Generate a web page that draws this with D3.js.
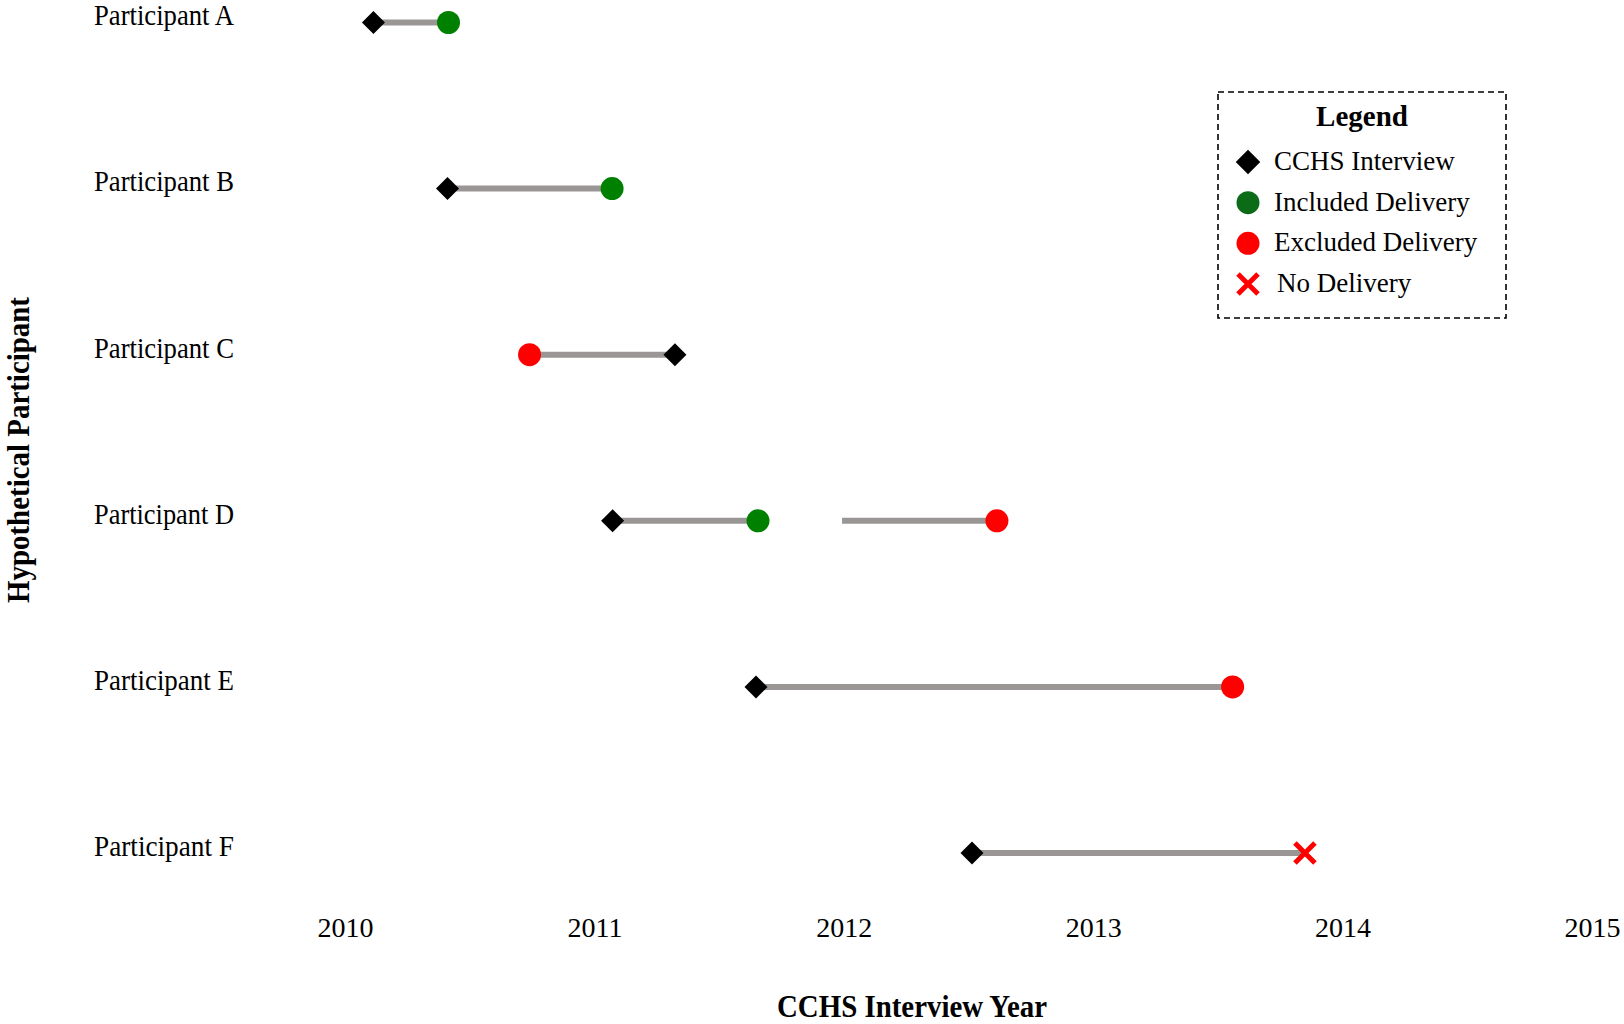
<!DOCTYPE html>
<html>
<head>
<meta charset="utf-8">
<script src="https://cdn.jsdelivr.net/npm/d3@7"></script>
<style>
  html, body { margin: 0; padding: 0; background: #fff; }
  svg { display: block; }
  text { font-family: "Liberation Serif", "Times New Roman", serif; fill: #000; }
</style>
</head>
<body>
<svg id="chart" width="1624" height="1024"></svg>
<script>
// ---------- data ----------
const participants = ["Participant A", "Participant B", "Participant C", "Participant D", "Participant E", "Participant F"];
const yearTicks = [2010, 2011, 2012, 2013, 2014, 2015];

// grey follow-up segments
const segParticipant = ["Participant A", "Participant B", "Participant C", "Participant D", "Participant D", "Participant E", "Participant F"];
const segStart = [2010.114, 2010.411, 2010.740, 2011.073, 2011.993, 2011.648, 2012.514];
const segEnd   = [2010.415, 2011.071, 2011.323, 2011.656, 2012.614, 2013.559, 2013.849];

// CCHS interviews
const interviewParticipant = ["Participant A", "Participant B", "Participant C", "Participant D", "Participant E", "Participant F"];
const interviewYear = [2010.114, 2010.411, 2011.323, 2011.073, 2011.648, 2012.514];

// deliveries
const deliveryParticipant = ["Participant A", "Participant B", "Participant C", "Participant D", "Participant D", "Participant E", "Participant F"];
const deliveryYear = [2010.415, 2011.071, 2010.740, 2011.656, 2012.614, 2013.559, 2013.849];
const deliveryType = ["Included", "Included", "Excluded", "Included", "Excluded", "Excluded", "None"];

const legendLabels = ["CCHS Interview", "Included Delivery", "Excluded Delivery", "No Delivery"];
const legendKeys = ["Interview", "Included", "Excluded", "None"];

// ---------- setup ----------
const svg = d3.select("#chart");
const x = d3.scaleLinear().domain([2010, 2015]).range([345, 1592]);
const y = d3.scalePoint().domain(participants).range([22.5, 853]);

const lineColor = "#9a9696";
const plotColor = { Included: "#008000", Excluded: "#ff0000", None: "#ff0000" };
const legendColor = { Included: "#0b6b16", Excluded: "#ff0000", None: "#ff0000" };

function drawMarker(g, type, color, legend) {
  if (type === "Interview") {
    g.append("path").attr("d", d3.symbol(d3.symbolSquare, legend ? 300 : 265)())
      .attr("transform", "rotate(45)").attr("fill", "#000");
  } else if (type === "None") {
    const s = 10;
    g.append("path").attr("d", `M${-s},${-s}L${s},${s}M${-s},${s}L${s},${-s}`)
      .attr("stroke", color).attr("stroke-width", 5).attr("fill", "none");
  } else {
    g.append("circle").attr("r", 11.5).attr("fill", color);
  }
}

// ---------- segments ----------
const segs = segParticipant.map((p, i) => ({ p, s: segStart[i], e: segEnd[i] }));
svg.append("g").selectAll("line").data(segs).join("line")
  .attr("x1", d => x(d.s)).attr("x2", d => x(d.e))
  .attr("y1", d => y(d.p)).attr("y2", d => y(d.p))
  .attr("stroke", lineColor).attr("stroke-width", 6);

// ---------- deliveries ----------
const dels = deliveryParticipant.map((p, i) => ({ p, v: deliveryYear[i], t: deliveryType[i] }));
svg.append("g").selectAll("g").data(dels).join("g")
  .attr("transform", d => `translate(${x(d.v)},${y(d.p)})`)
  .each(function (d) { drawMarker(d3.select(this), d.t, plotColor[d.t], false); });

// ---------- interviews ----------
const ints = interviewParticipant.map((p, i) => ({ p, v: interviewYear[i] }));
svg.append("g").selectAll("g").data(ints).join("g")
  .attr("transform", d => `translate(${x(d.v)},${y(d.p)})`)
  .each(function () { drawMarker(d3.select(this), "Interview", "#000", false); });

// ---------- x axis ----------
const xAxis = svg.append("g").attr("transform", "translate(0,918)")
  .call(d3.axisBottom(x).tickValues(yearTicks).tickFormat(d3.format("d")).tickSize(0).tickPadding(0));
xAxis.select(".domain").remove();
xAxis.selectAll("text").attr("y", 19).attr("dy", 0)
  .style("font-family", '"Liberation Serif", "Times New Roman", serif')
  .style("font-size", "28px").attr("fill", "#000");

// ---------- y axis (participant labels) ----------
const yAxis = svg.append("g").attr("transform", "translate(234,0)")
  .call(d3.axisLeft(y).tickSize(0).tickPadding(0));
yAxis.select(".domain").remove();
yAxis.selectAll("text").attr("x", 0).attr("dy", "0.08em")
  .attr("text-anchor", "end")
  .attr("textLength", 140).attr("lengthAdjust", "spacingAndGlyphs")
  .style("font-family", '"Liberation Serif", "Times New Roman", serif')
  .style("font-size", "29px").attr("fill", "#000");

// ---------- axis titles ----------
svg.append("text").attr("x", 912).attr("y", 1017).attr("text-anchor", "middle")
  .attr("font-weight", "bold").attr("font-size", 32)
  .attr("textLength", 270).attr("lengthAdjust", "spacingAndGlyphs")
  .text("CCHS Interview Year");

svg.append("text").attr("transform", "translate(29,450) rotate(-90)").attr("text-anchor", "middle")
  .attr("font-weight", "bold").attr("font-size", 32)
  .attr("textLength", 306).attr("lengthAdjust", "spacingAndGlyphs")
  .text("Hypothetical Participant");

// ---------- legend ----------
const lg = svg.append("g");
lg.append("rect").attr("x", 1218).attr("y", 92).attr("width", 288).attr("height", 226)
  .attr("fill", "#fff").attr("stroke", "#000").attr("stroke-width", 1.6).attr("stroke-dasharray", "6,4");
lg.append("text").attr("x", 1362).attr("y", 126).attr("text-anchor", "middle")
  .attr("font-weight", "bold").attr("font-size", 29).text("Legend");
const legendY = d3.scalePoint().domain(legendKeys).range([162, 284]);
const rows = lg.selectAll("g.row").data(legendKeys).join("g").attr("class", "row")
  .attr("transform", k => `translate(1248,${legendY(k)})`);
rows.each(function (k) { drawMarker(d3.select(this), k, legendColor[k] || "#000", true); });
rows.append("text").attr("x", (k, i) => i === 3 ? 29 : 26).attr("y", 8)
  .attr("font-size", 27).text((k, i) => legendLabels[i]);
</script>
</body>
</html>
